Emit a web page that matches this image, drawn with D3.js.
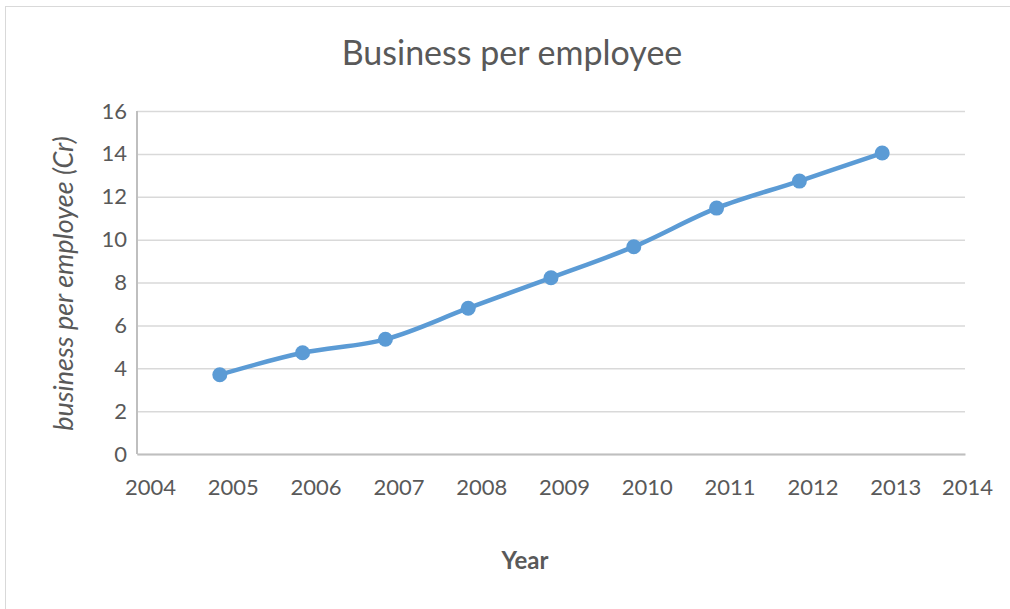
<!DOCTYPE html>
<html>
<head>
<meta charset="utf-8">
<script src="https://cdn.jsdelivr.net/npm/d3@7"></script>
<style>
  body { margin: 0; background: #fff; }
  text { font-family: Lato, "Open Sans", sans-serif; fill: #595959; }
</style>
</head>
<body>
<script>
var outerWidth = 1010, outerHeight = 609;

var margin = { top: 111, right: 45, bottom: 155, left: 137 };   // plot area inside the chart box

var width = outerWidth - margin.left - margin.right,
  height = outerHeight - margin.top - margin.bottom;

// data
var years = [2005, 2006, 2007, 2008, 2009, 2010, 2011, 2012, 2013];
var values = [3.7, 4.72, 5.35, 6.8, 8.22, 9.67, 11.47, 12.73, 14.04];
var xTicks = [2004, 2005, 2006, 2007, 2008, 2009, 2010, 2011, 2012, 2013, 2014];
var yTicks = [0, 2, 4, 6, 8, 10, 12, 14, 16];

var data = years.map(function (d, i) { return { x: d, y: values[i] }; });

var x = d3.scaleLinear()
  .domain([2004, 2014])
  .range([0, width]);

var y = d3.scaleLinear()
  .domain([0, 16])
  .range([height, 0]);

var line = d3.line()
  .x(function (d) { return x(d.x); })
  .y(function (d) { return y(d.y); })
  .curve(d3.curveCatmullRom.alpha(0.5));

var svg = d3.select("body").append("svg")
  .attr("width", outerWidth)
  .attr("height", outerHeight);

// chart box border
svg.append("rect")
  .attr("x", 5.5).attr("y", 6.5)
  .attr("width", outerWidth + 10).attr("height", outerHeight + 10)
  .style("fill", "#fff")
  .style("stroke", "#d9d9d9");

svg.append("text")
  .attr("x", 512).attr("y", 65)
  .attr("text-anchor", "middle")
  .style("font-size", "34px")
  .text("Business per employee");

var g = svg.append("g")
  .attr("transform", "translate(" + margin.left + "," + margin.top + ")");

// gridlines + y labels
var yAxis = d3.axisLeft(y)
  .tickValues(yTicks)
  .tickSize(-width)
  .tickPadding(10)
  .tickFormat(d3.format("d"));

g.append("g")
  .attr("class", "y axis")
  .call(yAxis)
  .call(function (s) {
    s.select(".domain").remove();
    s.selectAll(".tick line").style("stroke", "#d9d9d9").style("stroke-width", 1.5);
    s.selectAll(".tick text").style("font-size", "22px").style("fill", "#595959");
  });

// axis lines
g.append("line")
  .attr("x1", 0).attr("x2", 0).attr("y1", 0).attr("y2", height)
  .style("stroke", "#bfbfbf").style("stroke-width", 2);

var xAxis = d3.axisBottom(x)
  .tickValues(xTicks)
  .tickSize(0)
  .tickPadding(25)
  .tickFormat(d3.format("d"));

g.append("g")
  .attr("class", "x axis")
  .attr("transform", "translate(0," + height + ")")
  .call(xAxis)
  .call(function (s) {
    s.select(".domain").style("stroke", "#bfbfbf").style("stroke-width", 2);
    s.selectAll(".tick text")
      .style("font-size", "22px")
      .style("fill", "#595959")
      .attr("dx", function (d) { return Math.min(13, 830 - x(d)); });
  });

g.append("path")
  .datum(data)
  .attr("d", line)
  .style("fill", "none")
  .style("stroke", "#5b9bd5")
  .style("stroke-width", 4.5)
  .style("stroke-linecap", "round");

g.selectAll(".dot")
  .data(data)
  .enter().append("circle")
  .attr("class", "dot")
  .attr("cx", function (d) { return x(d.x); })
  .attr("cy", function (d) { return y(d.y); })
  .attr("r", 7.5)
  .style("fill", "#5b9bd5");

// axis titles
svg.append("text")
  .attr("transform", "translate(73," + (margin.top + height / 2 + 1) + ") rotate(-90)")
  .attr("text-anchor", "middle")
  .style("font-size", "27px")
  .style("font-style", "italic")
  .text("business per employee (Cr)");

svg.append("text")
  .attr("x", 525).attr("y", 569)
  .attr("text-anchor", "middle")
  .style("font-size", "24px")
  .style("font-weight", "bold")
  .text("Year");
</script>
</body>
</html>
